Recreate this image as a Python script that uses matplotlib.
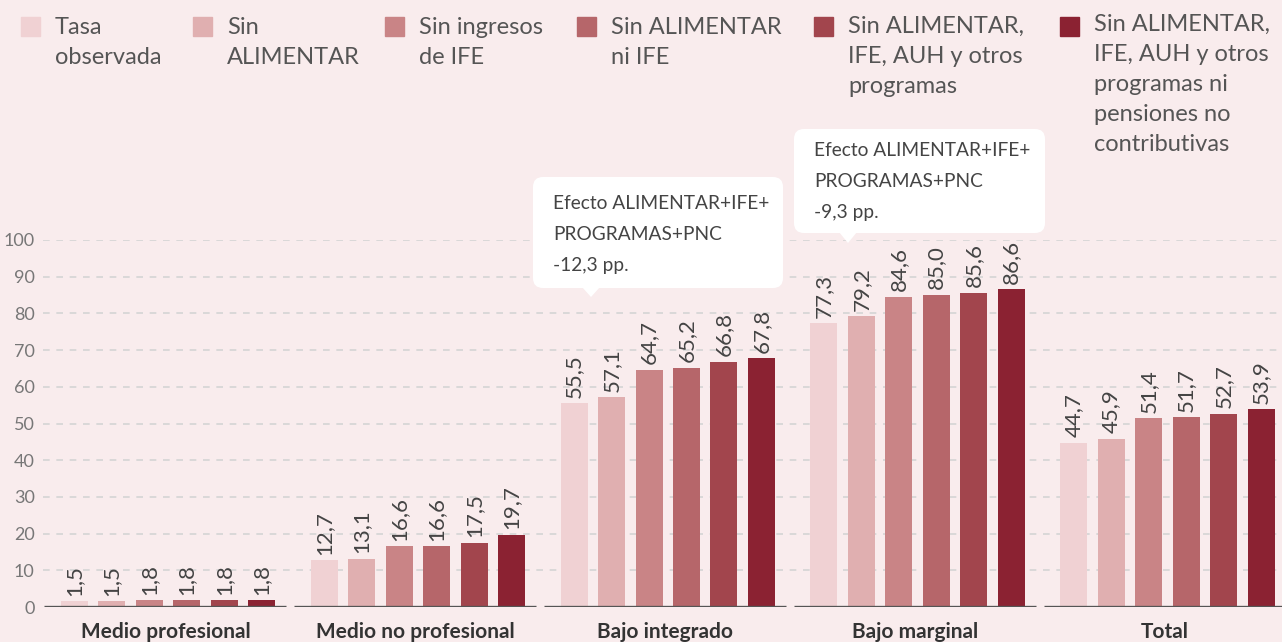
#!/usr/bin/env python3
"""Tasa de pobreza por estrato social, con y sin transferencias"""
import matplotlib.pyplot as plt
from matplotlib.patches import FancyBboxPatch, Polygon, Rectangle

plt.rcParams['font.family'] = ['Lato', 'DejaVu Sans']

# data
grupos = ['Medio profesional', 'Medio no profesional', 'Bajo integrado',
          'Bajo marginal', 'Total']
series = ['Tasa\nobservada', 'Sin\nALIMENTAR', 'Sin ingresos\nde IFE',
          'Sin ALIMENTAR\nni IFE', 'Sin ALIMENTAR,\nIFE, AUH y otros\nprogramas',
          'Sin ALIMENTAR,\nIFE, AUH y otros\nprogramas ni\npensiones no\ncontributivas']
valores = [
    [1.5, 12.7, 55.5, 77.3, 44.7],
    [1.5, 13.1, 57.1, 79.2, 45.9],
    [1.8, 16.6, 64.7, 84.6, 51.4],
    [1.8, 16.6, 65.2, 85.0, 51.7],
    [1.8, 17.5, 66.8, 85.6, 52.7],
    [1.8, 19.7, 67.8, 86.6, 53.9],
]
colores = ['#F0D1D3', '#E0AFB0', '#C98486', '#B6666A', '#A2454D', '#8B2232']
callouts = ['Efecto ALIMENTAR+IFE+\nPROGRAMAS+PNC\n-12,3 pp.',
            'Efecto ALIMENTAR+IFE+\nPROGRAMAS+PNC\n-9,3 pp.']

bg = '#F9ECED'
fig = plt.figure(figsize=(12.82, 6.42), dpi=100, facecolor=bg)
ax = fig.add_axes([43 / 1282, 35 / 642, 1 - 43 / 1282, 367 / 642])
ax.set_facecolor(bg)

step = 0.150
width = 0.108
x = range(len(grupos))
for j, (vals, c) in enumerate(zip(valores, colores)):
    pos = [i + (j - 2.5) * step + 0.01 for i in x]
    bars = ax.bar(pos, vals, width=width, color=c, zorder=3)
    for b, v in zip(bars, vals):
        ax.annotate(f'{v:.1f}'.replace('.', ','),
                    (b.get_x() + b.get_width() / 2, v),
                    xytext=(0, 4), textcoords='offset points',
                    rotation=90, ha='center', va='bottom',
                    fontsize=16, color='#444444')

# base segments per group
for i in x:
    ax.hlines(0, i - 0.484, i + 0.484, color='#555555', linewidth=2.4,
              zorder=4, capstyle='butt')
    ax.annotate(grupos[i], (i, 0), xycoords=('data', 'data'),
                xytext=(0, -18), textcoords='offset points',
                ha='center', va='center', fontsize=15, fontweight='bold',
                color='#333333')

ax.set_xlim(-0.49, 4.468)
ax.set_ylim(0, 100)
ax.set_yticks(range(0, 101, 10))
ax.tick_params(axis='y', length=0, pad=6, labelsize=13, labelcolor='#777777')
ax.tick_params(axis='x', length=0, labelbottom=False)
for y in range(10, 101, 10):
    ax.axhline(y, color='#D4D4D4', linewidth=1.2, linestyle=(0, (4, 4)),
               zorder=1)
for s in ax.spines.values():
    s.set_visible(False)

# overlay in pixel coordinates for legend and callouts
ov = fig.add_axes([0, 0, 1, 1], facecolor='none')
ov.set_xlim(0, 1282)
ov.set_ylim(642, 0)
ov.axis('off')

# va='baseline' pins the last line, so push the anchor down per extra line
leg_x = [21, 193, 385, 577, 814, 1060]
for lx, lab, c in zip(leg_x, series, colores):
    ov.add_patch(Rectangle((lx, 17), 19, 19, color=c))
    nl = lab.count('\n')
    ov.text(lx + 34, 35 + nl * 29, lab, ha='left', va='baseline',
            fontsize=17, color='#555555', linespacing=1.53)

# (box x, y, w, h, pointer x, pointer tip y, first baseline)
boxes = [(533, 177, 250, 111, 591, 297, 210),
         (794, 129, 251, 104, 848, 243, 157)]
for (bx, by, bw, bh, tx, ty, bl), txt in zip(boxes, callouts):
    ov.add_patch(FancyBboxPatch((bx, by), bw, bh,
                                boxstyle='round,pad=0,rounding_size=10',
                                facecolor='white', edgecolor='none'))
    ov.add_patch(Polygon([(tx - 9, by + bh - 1), (tx + 9, by + bh - 1),
                          (tx, ty)], closed=True, facecolor='white',
                         edgecolor='none'))
    ov.text(bx + 20, bl + 2 * 30.5, txt, ha='left', va='baseline',
            fontsize=13.8, color='#444444', linespacing=1.99)

fig.savefig('out.png', dpi=100, facecolor=bg)
